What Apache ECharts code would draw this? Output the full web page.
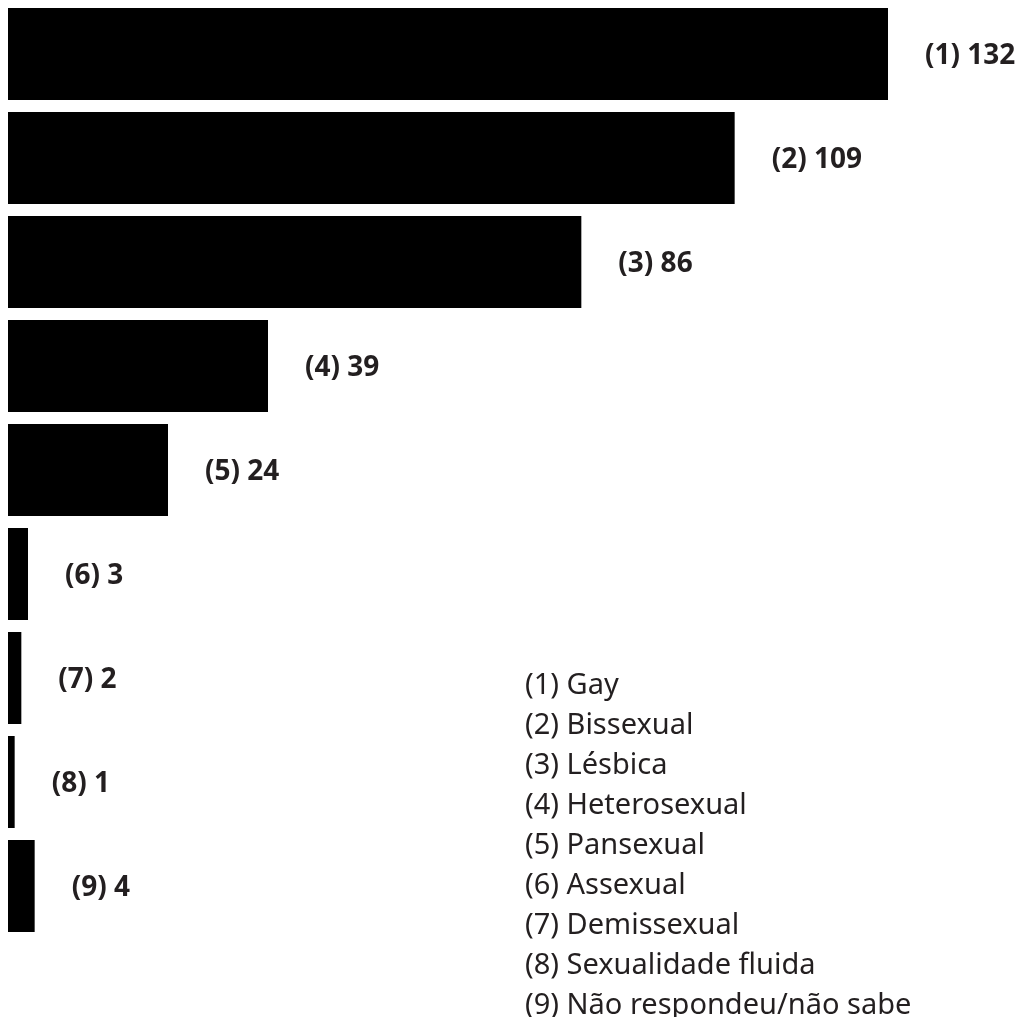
<!DOCTYPE html>
<html>
<head>
<meta charset="utf-8">
<style>
  html, body { margin: 0; padding: 0; background: #ffffff; }
  #chart { width: 1017px; height: 1017px; }
</style>
<script src="https://cdn.jsdelivr.net/npm/echarts@6/dist/echarts.min.js"></script>
</head>
<body>
<div id="chart"></div>
<script>
var codes = ['(1)', '(2)', '(3)', '(4)', '(5)', '(6)', '(7)', '(8)', '(9)'];
var values = [132, 109, 86, 39, 24, 3, 2, 1, 4];
var names = ['Gay', 'Bissexual', 'Lésbica', 'Heterosexual', 'Pansexual', 'Assexual', 'Demissexual', 'Sexualidade fluida', 'Não respondeu/não sabe'];

var textColor = '#231f20';
var chart = echarts.init(document.getElementById('chart'), null, { renderer: 'canvas' });

var legendItems = names.map(function (n, i) {
  return {
    type: 'text',
    left: 525,
    top: 671 + i * 40,
    style: {
      text: codes[i] + ' ' + n,
      fill: textColor,
      font: '29px "Noto Sans"'
    }
  };
});

chart.setOption({
  backgroundColor: '#ffffff',
  animation: false,
  grid: { left: 8, top: 2, width: 880, height: 936, containLabel: false },
  xAxis: {
    type: 'value', min: 0, max: 132, show: false
  },
  yAxis: {
    type: 'category', data: codes, inverse: true, show: false
  },
  series: [{
    type: 'bar',
    data: values,
    barWidth: 92,
    itemStyle: { color: '#000000' },
    label: {
      show: true,
      position: 'right',
      distance: 37,
      color: textColor,
      fontFamily: 'Noto Sans',
      fontWeight: 'bold',
      fontSize: 28,
      offset: [0, 2],
      formatter: function (p) { return codes[p.dataIndex] + ' ' + p.value; }
    }
  }],
  graphic: legendItems
});
</script>
</body>
</html>
